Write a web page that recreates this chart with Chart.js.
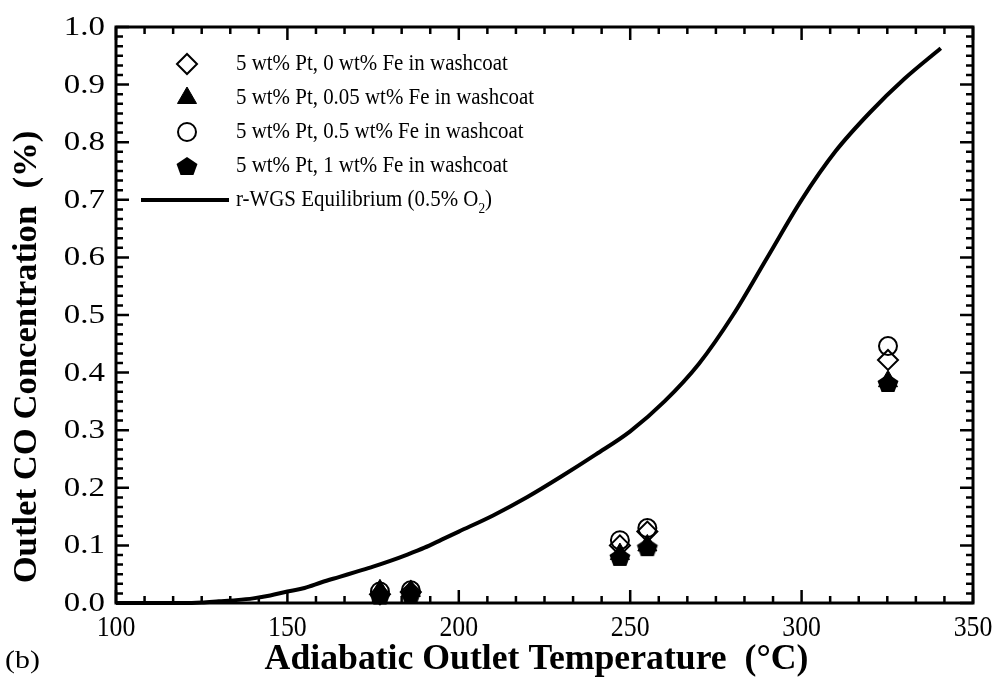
<!DOCTYPE html>
<html>
<head>
<meta charset="utf-8">
<script src="https://cdn.jsdelivr.net/npm/chart.js@4.4.1/dist/chart.umd.min.js"></script>
<style>
  html, body { margin: 0; padding: 0; background: #fff; }
  #wrap { width: 1000px; height: 685px; position: relative; }
</style>
</head>
<body>
<div id="wrap"><canvas id="chart" width="1000" height="685"></canvas></div>
<script>
// ─── Datos ───────────────────────────────────────────────────────────────────
const eqTemp = [100, 110, 120, 125, 130, 135, 140, 145, 150, 155, 160, 165, 170, 175, 180, 185, 190, 195, 200,
                210, 220, 230, 240, 250, 260, 270, 280, 290, 300, 310, 320, 330, 340.6];
const eqCO   = [0, 0, 0, 0.001, 0.003, 0.005, 0.008, 0.013, 0.02, 0.026, 0.036, 0.045, 0.054, 0.063, 0.073, 0.084, 0.096, 0.11, 0.124,
                0.152, 0.184, 0.22, 0.258, 0.298, 0.35, 0.415, 0.5, 0.6, 0.7, 0.785, 0.852, 0.91, 0.963];

const measTemp = [177, 186, 247, 255, 325.2];
const co0Fe    = [0.015, 0.019, 0.100, 0.124, 0.422];
const co005Fe  = [0.022, 0.021, 0.085, 0.100, 0.385];
const co05Fe   = [0.020, 0.022, 0.109, 0.130, 0.446];
const co1Fe    = [0.013, 0.016, 0.080, 0.097, 0.382];

const seriesLabels = [
  '5 wt% Pt, 0 wt% Fe in washcoat',
  '5 wt% Pt, 0.05 wt% Fe in washcoat',
  '5 wt% Pt, 0.5 wt% Fe in washcoat',
  '5 wt% Pt, 1 wt% Fe in washcoat',
  'r-WGS Equilibrium (0.5% O',
];

const xTicks = [100, 150, 200, 250, 300, 350];
const yTicks = [0, 0.1, 0.2, 0.3, 0.4, 0.5, 0.6, 0.7, 0.8, 0.9, 1.0];
const xMinorStep = 50 / 6;
const yMinorStep = 0.1 / 6;

const SERIF = "'Liberation Serif', 'Times New Roman', serif";

// pentágono relleno (no existe como pointStyle)
function makePentagon(rx, ry) {
  const s = Math.ceil(2 * Math.max(rx, ry) + 4);
  const cv = document.createElement('canvas');
  cv.width = cv.height = s;
  const g = cv.getContext('2d');
  g.beginPath();
  for (let i = 0; i < 5; i++) {
    const a = -Math.PI / 2 + i * 2 * Math.PI / 5;
    g.lineTo(s / 2 + rx * Math.cos(a), s / 2 + 1 + ry * Math.sin(a));
  }
  g.closePath();
  g.fillStyle = '#000';
  g.fill();
  return cv;
}
const pentagon = makePentagon(11, 10);

const pts = ys => measTemp.map((x, i) => ({ x, y: ys[i] }));

// texto con estiramiento horizontal opcional
function wideText(ctx, txt, x, y, size, bold, sx, align, rot) {
  ctx.save();
  ctx.translate(x, y);
  if (rot) ctx.rotate(rot);
  ctx.scale(sx, 1);
  ctx.font = `${bold ? 'bold ' : ''}${size}px ${SERIF}`;
  ctx.fillStyle = '#000';
  ctx.textAlign = align || 'left';
  ctx.textBaseline = 'middle';
  ctx.fillText(txt, 0, 0);
  const w = ctx.measureText(txt).width * sx;
  ctx.restore();
  return w;
}

// ─── Marco, marcas interiores, etiquetas, títulos ────────────────────────────
const framePlugin = {
  id: 'frame',
  beforeDatasetsDraw(chart) {
    const { ctx, chartArea: a, scales: { x, y } } = chart;
    ctx.save();
    ctx.strokeStyle = '#000';
    ctx.lineWidth = 2.5;
    ctx.beginPath();
    for (let i = 0; x.min + i * xMinorStep <= x.max + 1e-6; i++) {
      const px = x.getPixelForValue(x.min + i * xMinorStep);
      const len = i % 6 === 0 ? 13 : 7;
      ctx.moveTo(px, a.bottom); ctx.lineTo(px, a.bottom - len);
      ctx.moveTo(px, a.top); ctx.lineTo(px, a.top + len);
    }
    for (let i = 0; y.min + i * yMinorStep <= y.max + 1e-6; i++) {
      const py = y.getPixelForValue(y.min + i * yMinorStep);
      const len = i % 6 === 0 ? 13 : 7;
      ctx.moveTo(a.left, py); ctx.lineTo(a.left + len, py);
      ctx.moveTo(a.right, py); ctx.lineTo(a.right - len, py);
    }
    ctx.stroke();
    ctx.lineWidth = 3;
    ctx.strokeRect(a.left, a.top, a.right - a.left, a.bottom - a.top);
    ctx.restore();

    xTicks.forEach(v => wideText(ctx, String(v), x.getPixelForValue(v), a.bottom + 25, 30, false, 0.86, 'center'));
    yTicks.forEach(v => wideText(ctx, v.toFixed(1), a.left - 11, y.getPixelForValue(v) + 1, 27, false, 1.22, 'right'));

    wideText(ctx, 'Adiabatic Outlet Temperature  (°C)', (a.left + a.right) / 2 - 8, 660, 35, true, 1.02, 'center');
    wideText(ctx, 'Outlet CO Concentration  (%)', 27, 357, 34, true, 1.02, 'center', -Math.PI / 2);
    wideText(ctx, '(b)', 5, 661, 26, false, 1.15, 'left');
  },
  afterDatasetsDraw(chart) {
    // leyenda
    const { ctx } = chart;
    const rows = [64, 98, 132, 166, 200];
    chart.data.datasets.forEach((ds, i) => {
      const cy = rows[i];
      if (ds.showLine) {
        ctx.save();
        ctx.strokeStyle = ds.borderColor;
        ctx.lineWidth = ds.borderWidth;
        ctx.beginPath(); ctx.moveTo(141, cy); ctx.lineTo(229, cy); ctx.stroke();
        ctx.restore();
        let w = wideText(ctx, ds.label, 236, cy, 23.5, false, 0.89, 'left');
        w += wideText(ctx, '2', 236 + w, cy + 9, 15, false, 0.89, 'left');
        wideText(ctx, ')', 236 + w, cy, 23.5, false, 0.89, 'left');
      } else {
        Chart.helpers.drawPoint(ctx, {
          pointStyle: ds.pointStyle, radius: ds.pointRadius, rotation: 0,
          borderWidth: ds.borderWidth,
        }, 187, cy);
        wideText(ctx, ds.label, 236, cy, 23.5, false, 0.89, 'left');
      }
    });
  },
};

// Chart.helpers.drawPoint usa el estilo activo del contexto
const origDraw = Chart.helpers.drawPoint;
Chart.helpers.drawPoint = function (ctx, opts, x, y) {
  ctx.save();
  ctx.fillStyle = opts.pointStyle === 'triangle' ? '#000' : 'rgba(0,0,0,0)';
  ctx.strokeStyle = '#000';
  ctx.lineWidth = opts.borderWidth;
  origDraw(ctx, opts, x, y);
  ctx.restore();
};

const openMarker = { borderColor: '#000', backgroundColor: 'rgba(0,0,0,0)', borderWidth: 2 };

new Chart(document.getElementById('chart'), {
  type: 'scatter',
  data: {
    datasets: [
      { label: seriesLabels[0], data: pts(co0Fe), pointStyle: 'rectRot', pointRadius: 10, ...openMarker, order: 4 },
      { label: seriesLabels[1], data: pts(co005Fe), pointStyle: 'triangle', pointRadius: 11,
        borderColor: '#000', backgroundColor: '#000', borderWidth: 1, order: 2 },
      { label: seriesLabels[2], data: pts(co05Fe), pointStyle: 'circle', pointRadius: 9, ...openMarker, order: 3 },
      { label: seriesLabels[3], data: pts(co1Fe), pointStyle: pentagon, pointRadius: 10,
        borderColor: '#000', backgroundColor: '#000', borderWidth: 0, order: 1 },
      { label: seriesLabels[4], data: eqTemp.map((x, i) => ({ x, y: eqCO[i] })), showLine: true,
        borderColor: '#000', borderWidth: 4, pointRadius: 0, cubicInterpolationMode: 'monotone', order: 5 },
    ],
  },
  options: {
    responsive: false, animation: false,
    layout: { padding: { left: 116, top: 27, right: 27, bottom: 82 } },
    plugins: { legend: { display: false }, tooltip: { enabled: false } },
    elements: { point: { hoverRadius: 0 } },
    datasets: { scatter: { clip: false } },
    scales: {
      x: { type: 'linear', min: 100, max: 350, display: false },
      y: { type: 'linear', min: 0, max: 1, display: false },
    },
  },
  plugins: [framePlugin],
});
</script>
</body>
</html>
